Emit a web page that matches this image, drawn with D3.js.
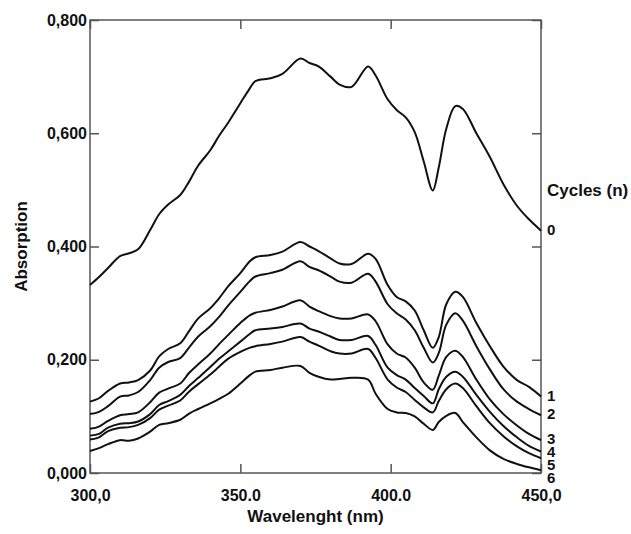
<!DOCTYPE html>
<html>
<head>
<meta charset="utf-8">
<script src="https://cdn.jsdelivr.net/npm/d3@7"></script>
<style>
  body { margin: 0; background: #fff; }
  text { font-family: "Liberation Sans", Arial, sans-serif; font-weight: bold; fill: #111; }
</style>
</head>
<body>
<script>
// chart size
var width = 631, height = 534;
var plotLeft = 90, plotRight = 541, plotTop = 20, plotBottom = 473;

var wavelengths = [300, 303, 306, 310, 313, 316, 320, 323, 326, 330, 333, 336, 340, 343, 346, 350, 353, 355,
	360, 364, 370, 373, 376, 380, 383, 387, 392.5, 395, 399, 402, 405, 408, 411, 414, 416, 418.5, 421.5, 424,
	428.5, 433, 437.5, 442, 446, 450];

// absorption per cycle count
var cycle0 = [.332, .346, .362, .383, .388, .395, .429, .457, .474, .491, .515, .543, .570, .596, .619, .653, .678, .692,
	.697, .705, .732, .724, .718, .700, .686, .682, .718, .702, .660, .641, .628, .602, .550, .499, .540, .608, .648, .643,
	.600, .558, .510, .472, .448, .428];
var cycle1 = [.126, .132, .145, .158, .160, .164, .181, .206, .219, .229, .251, .273, .291, .309, .330, .353, .373, .381,
	.385, .391, .408, .400, .392, .379, .370, .369, .387, .378, .332, .311, .303, .287, .252, .221, .240, .298, .320, .311,
	.265, .224, .188, .164, .152, .135];
var cycle2 = [.104, .108, .118, .135, .137, .143, .164, .186, .196, .203, .222, .241, .259, .276, .296, .320, .338, .347,
	.353, .359, .374, .364, .358, .347, .338, .336, .352, .338, .298, .282, .271, .252, .221, .195, .212, .262, .282, .269,
	.224, .183, .148, .126, .113, .102];
var cycle3 = [.078, .082, .092, .102, .104, .107, .125, .142, .149, .158, .177, .192, .211, .228, .244, .265, .278, .283,
	.288, .294, .305, .294, .286, .277, .273, .273, .280, .268, .227, .211, .204, .186, .160, .147, .172, .205, .216, .205,
	.165, .130, .104, .084, .069, .058];
var cycle4 = [.066, .069, .080, .087, .088, .091, .104, .120, .127, .138, .154, .168, .187, .202, .215, .232, .245, .252,
	.255, .258, .264, .255, .250, .241, .235, .235, .242, .226, .186, .173, .165, .150, .136, .123, .148, .170, .179, .170,
	.138, .108, .083, .063, .048, .038];
var cycle5 = [.059, .063, .074, .080, .081, .085, .097, .112, .119, .128, .144, .157, .174, .188, .202, .214, .221, .224,
	.228, .232, .240, .232, .225, .215, .211, .211, .219, .203, .165, .151, .143, .129, .116, .107, .127, .148, .158, .150,
	.118, .088, .065, .047, .035, .026];
var cycle6 = [.039, .044, .051, .058, .057, .061, .073, .085, .088, .094, .105, .113, .123, .131, .140, .158, .172, .179,
	.182, .186, .189, .177, .170, .165, .166, .168, .165, .140, .113, .107, .106, .100, .087, .076, .090, .101, .106, .090,
	.063, .040, .025, .016, .010, .005];

var series = [cycle0, cycle1, cycle2, cycle3, cycle4, cycle5, cycle6];
var cycleLabels = ["0", "1", "2", "3", "4", "5", "6"];

var xTicks = [300, 350, 400, 450];
var xTickLabels = ["300,0", "350.0", "400.0", "450,0"];
var yTicks = [0, 0.2, 0.4, 0.6, 0.8];
var yTickLabels = ["0,000", "0,200", "0,400", "0,600", "0,800"];

var svg = d3.select('body').append('svg').attr('width', width).attr('height', height);

var x = d3.scaleLinear().domain([300, 450]).range([plotLeft, plotRight]);
var y = d3.scaleLinear().domain([0, 0.8]).range([plotBottom, plotTop]);

var frameColor = '#555';

// frame
svg.append('rect').attr('x', plotLeft).attr('y', plotTop)
	.attr('width', plotRight - plotLeft).attr('height', plotBottom - plotTop)
	.attr('fill', 'none').attr('stroke', frameColor).attr('stroke-width', 1.5);

// axes, ticks pointing inward
function styleAxis(g) {
	g.select('.domain').remove();
	g.selectAll('line').attr('stroke', frameColor).attr('stroke-width', 1.5);
	g.selectAll('text').attr('font-size', '16px').attr('font-family', null).attr('fill', '#111');
}

svg.append('g').attr('transform', 'translate(' + plotLeft + ',0)')
	.call(d3.axisLeft(y).tickValues(yTicks).tickSize(-9).tickPadding(3).tickFormat((d, i) => yTickLabels[i]))
	.call(styleAxis);
svg.append('g').attr('transform', 'translate(' + plotRight + ',0)')
	.call(d3.axisRight(y).tickValues(yTicks).tickSize(-9).tickFormat(''))
	.call(styleAxis);
svg.append('g').attr('transform', 'translate(0,' + plotBottom + ')')
	.call(d3.axisBottom(x).tickValues(xTicks).tickSize(-9).tickPadding(17).tickFormat((d, i) => xTickLabels[i]))
	.call(styleAxis);
svg.append('g').attr('transform', 'translate(0,' + plotTop + ')')
	.call(d3.axisTop(x).tickValues(xTicks).tickSize(-9).tickFormat(''))
	.call(styleAxis);

// spectra
var line = d3.line()
	.x((d, i) => x(wavelengths[i]))
	.y(d => y(d))
	.curve(d3.curveCatmullRom);

svg.append('g').selectAll('path').data(series).enter()
	.append('path')
	.attr('d', line)
	.attr('fill', 'none')
	.attr('stroke', '#111')
	.attr('stroke-width', 2);

// cycle labels at the right end of each curve, pushed apart if they collide
var labelY = [];
series.forEach((s, i) => {
	var yy = y(s[s.length - 1]) + 4;
	if (i > 1 && yy < labelY[i - 1] + 13) yy = labelY[i - 1] + 13;
	labelY.push(yy);
});
svg.append('g').selectAll('text').data(cycleLabels).enter()
	.append('text')
	.attr('x', plotRight + 6)
	.attr('y', (d, i) => labelY[i])
	.attr('font-size', '15px')
	.text(d => d);

svg.append('text').attr('x', plotRight + 6).attr('y', 196).attr('font-size', '17px').text('Cycles (n)');

// axis titles
svg.append('text')
	.attr('transform', 'translate(' + (plotLeft + plotRight) / 2 + ',522)')
	.attr('text-anchor', 'middle')
	.attr('font-size', '17px')
	.text('Wavelenght (nm)');
svg.append('text')
	.attr('transform', 'translate(27,' + (plotTop + plotBottom) / 2 + ') rotate(-90)')
	.attr('text-anchor', 'middle')
	.attr('font-size', '17px')
	.text('Absorption');
</script>
</body>
</html>
